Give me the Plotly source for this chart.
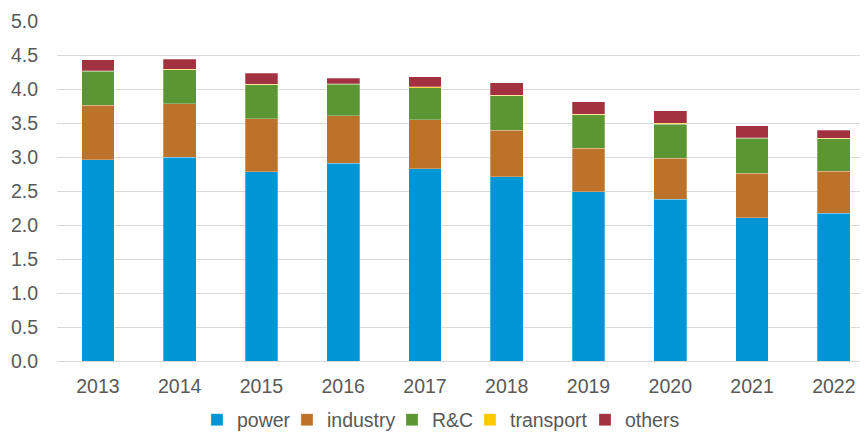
import plotly.graph_objects as go

years = ["2013", "2014", "2015", "2016", "2017", "2018", "2019", "2020", "2021", "2022"]
power = [2.96, 3.00, 2.78, 2.91, 2.83, 2.71, 2.49, 2.38, 2.11, 2.17]
industry = [0.80, 0.78, 0.78, 0.70, 0.72, 0.68, 0.64, 0.605, 0.65, 0.62]
rc = [0.50, 0.50, 0.50, 0.46, 0.47, 0.51, 0.49, 0.50, 0.515, 0.475]
transport = [0.01, 0.01, 0.01, 0.01, 0.01, 0.01, 0.01, 0.01, 0.01, 0.01]
others = [0.16, 0.15, 0.165, 0.08, 0.15, 0.18, 0.18, 0.185, 0.175, 0.115]

series_names = ["power", "industry", "R&C", "transport", "others"]
series_values = [power, industry, rc, transport, others]
series_colors = ["#0096D6", "#BD7229", "#5B9632", "#FFC800", "#A33241"]
legend_x = [0.1743, 0.2864, 0.4172, 0.5143, 0.6575]

x_idx = list(range(len(years)))
fig = go.Figure()
for i, (name, vals, color) in enumerate(zip(series_names, series_values, series_colors)):
    lg = "legend" if i == 0 else f"legend{i+1}"
    fig.add_trace(go.Bar(
        x=x_idx, y=vals, name=name, width=0.4, legend=lg,
        marker=dict(color=color, line=dict(color="rgba(255,255,255,0.45)", width=0.6)),
    ))

font_family = "Liberation Sans, Arial, sans-serif"
fs = 19.5
layout_legends = {}
for i, lx in enumerate(legend_x):
    key = "legend" if i == 0 else f"legend{i+1}"
    layout_legends[key] = dict(
        orientation="h", x=lx, xanchor="left", y=-0.1735, yanchor="middle",
        font=dict(size=fs, color="#595959"), itemwidth=30, bgcolor="rgba(0,0,0,0)",
    )

fig.update_layout(
    barmode="stack",
    width=867, height=434,
    margin=dict(l=57, r=7, t=21, b=73, autoexpand=False),
    paper_bgcolor="white", plot_bgcolor="white",
    font=dict(family=font_family, size=fs, color="#595959"),
    showlegend=True,
    xaxis=dict(
        tickmode="array", tickvals=x_idx, ticktext=years, automargin=False,
        range=[-0.5, 9.32], showgrid=False, showline=True, linecolor="#D9D9D9", linewidth=1,
        ticks="outside", ticklen=8, tickcolor="rgba(0,0,0,0)", zeroline=False,
        tickfont=dict(size=fs, color="#595959"),
    ),
    yaxis=dict(
        range=[0, 5], dtick=0.5, tick0=0, tickformat=".1f", automargin=False,
        showgrid=True, gridcolor="#D9D9D9", gridwidth=1, zeroline=False,
        ticks="outside", ticklen=14, tickcolor="rgba(0,0,0,0)",
        tickfont=dict(size=fs, color="#595959"),
    ),
    **layout_legends,
)

fig.write_html(
    "out.html",
    config={"displayModeBar": False},
    post_script="document.body.style.margin='0';document.body.style.overflow='hidden';",
)
